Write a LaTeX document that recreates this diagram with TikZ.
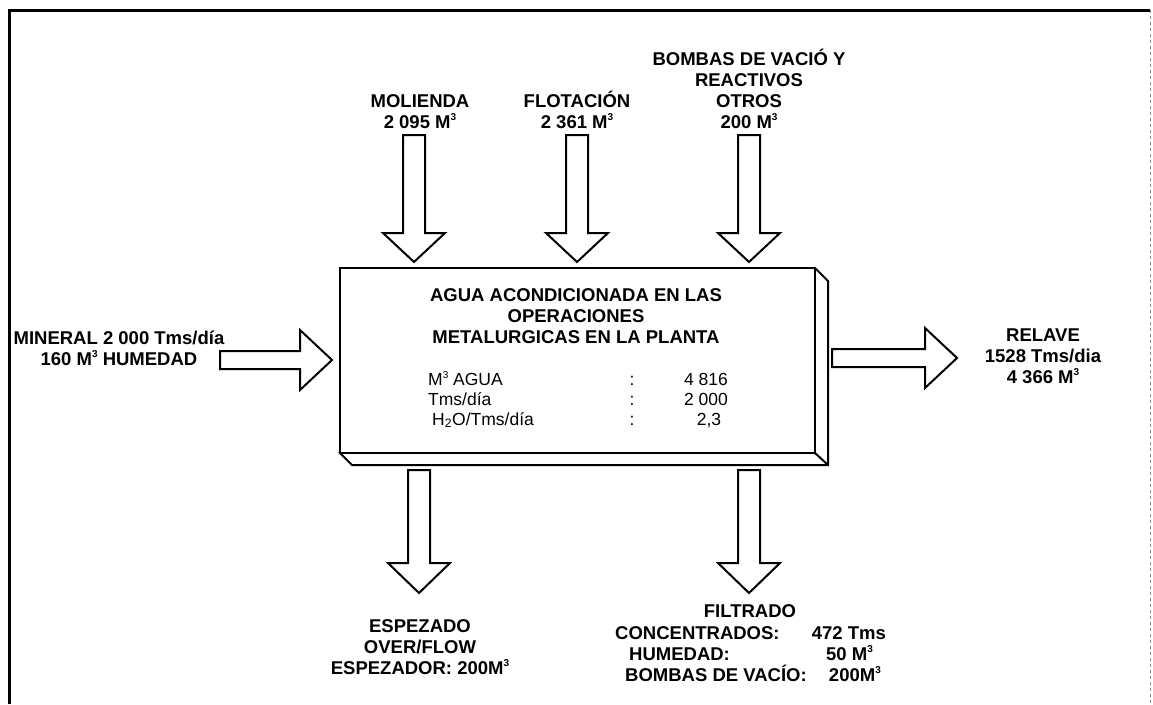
\documentclass[tikz,border=0pt]{standalone}
\usepackage{fontspec}
\setmainfont{Liberation Sans}
\newcommand\cubo{\raisebox{0.75ex}{\fontsize{10}{10}\selectfont 3}}
\begin{document}
\begin{tikzpicture}[x=1pt,y=-1pt,
  blk/.style={draw=black,line width=2pt,fill=white,line join=miter},
  lbl/.style={font=\fontsize{18.5}{21}\selectfont\bfseries,align=center,inner sep=0pt,text depth=0pt},
  tab/.style={font=\fontsize{17.5}{20}\selectfont,inner sep=0pt,anchor=base west},
  tabv/.style={font=\fontsize{17.5}{20}\selectfont,inner sep=0pt,anchor=base},
  frame/.style={line width=3pt}]
\useasboundingbox (0,0) rectangle (1153,704);
\newcommand\blkdown[4]{%
  \draw[blk] ({#1-11},#2) -- ({#1+11},#2) -- ({#1+11},#3) -- ({#1+31},#3) -- (#1,#4) -- ({#1-31},#3) -- ({#1-11},#3) -- cycle;}
\newcommand\blkright[4]{%
  \draw[blk] (#1,{#4-9}) -- (#2,{#4-9}) -- (#2,{#4-30}) -- (#3,#4) -- (#2,{#4+30}) -- (#2,{#4+9}) -- (#1,{#4+9}) -- cycle;}
% frame
\draw[frame] (9,704) -- (9,10) -- (1150,10);
\draw[line width=1pt,black!45,dashed] (1150,10) -- (1150,704);
% central box
\coordinate (fTL) at (340,268);
\coordinate (fTR) at (815,268);
\coordinate (fBR) at (815,453);
\coordinate (fBL) at (340,453);
\coordinate (sTR) at (828,281);
\coordinate (sBR) at (828,465);
\coordinate (sBL) at (352,465);
\draw[blk] (fTR) -- (sTR) -- (sBR) -- (sBL) -- (fBL) -- cycle;
\draw[blk] (fTL) rectangle (fBR);
\draw[blk] (fBR) -- (sBR);
% top inputs
\blkdown{414}{135}{233}{262}
\blkdown{577}{135}{233}{262}
\blkdown{749}{135}{233}{262}
\node[lbl,anchor=base] (mol) at (420,128) {MOLIENDA\\2 095 M\cubo};
\node[lbl,anchor=base] (flo) at (577,128) {FLOTACIÓN\\2 361 M\cubo};
\node[lbl,anchor=base] (bom) at (749,128) {BOMBAS DE VACIÓ Y\\REACTIVOS\\OTROS\\200 M\cubo};
% left input
\blkright{220}{300}{332}{360}
\node[lbl,anchor=base] (min) at (119,365) {MINERAL 2 000 Tms/día\\160 M\cubo{} HUMEDAD};
% right output
\blkright{832}{925}{957}{358}
\node[lbl,anchor=base] (rel) at (1043,383) {RELAVE\\1528 Tms/dia\\4 366 M\cubo};
% box text
\node[lbl,anchor=base] (tit) at (576,343) {AGUA ACONDICIONADA EN LAS\\OPERACIONES\\METALURGICAS EN LA PLANTA};
\node[tab] (r1) at (428,385) {M\cubo{} AGUA};
\node[tab] (r2) at (428,405) {Tms/día};
\node[tab] (r3) at (432,425) {H\textsubscript{2}O/Tms/día};
\node[tabv] (c1) at (632,385) {:};
\node[tabv] (c2) at (632,405) {:};
\node[tabv] (c3) at (632,425) {:};
\node[tabv] (v1) at (706,385) {4 816};
\node[tabv] (v2) at (706,405) {2 000};
\node[tabv] (v3) at (709,425) {2,3};
% bottom outputs
\blkdown{419}{470}{563}{593}
\blkdown{749}{470}{563}{593}
\node[lbl,anchor=base] (esp) at (420,674) {ESPEZADO\\OVER/FLOW\\ESPEZADOR: 200M\cubo};
\node[lbl,anchor=base] (fil) at (750,617) {FILTRADO};
\node[lbl,anchor=base west] (k1) at (615,639) {CONCENTRADOS:};
\node[lbl,anchor=base east] (k1v) at (886,639) {472 Tms};
\node[lbl,anchor=base west] (k2) at (629,660) {HUMEDAD:};
\node[lbl,anchor=base east] (k2v) at (873,660) {50 M\cubo};
\node[lbl,anchor=base west] (k3) at (625,681) {BOMBAS DE VACÍO:};
\node[lbl,anchor=base east] (k3v) at (881,681) {200M\cubo};
\end{tikzpicture}
\end{document}
